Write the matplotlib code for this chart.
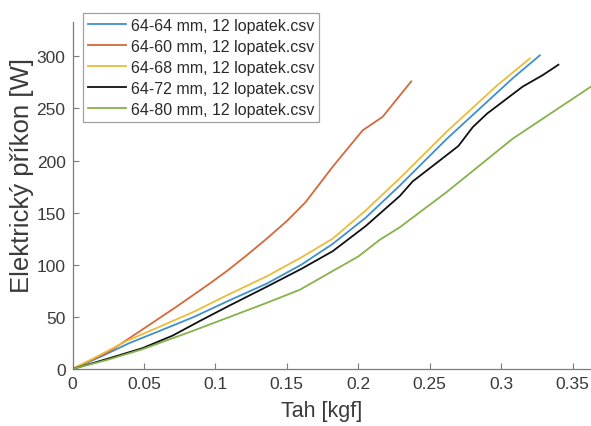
import matplotlib
matplotlib.use("Agg")
import matplotlib.pyplot as plt

plt.rcParams['font.family'] = ['Liberation Sans', 'DejaVu Sans']

# Thrust [kgf] vs electric power [W] for each rotor configuration
labels = [
    "64-64 mm, 12 lopatek.csv",
    "64-60 mm, 12 lopatek.csv",
    "64-68 mm, 12 lopatek.csv",
    "64-72 mm, 12 lopatek.csv",
    "64-80 mm, 12 lopatek.csv",
]

tah_64 = [0, 0.02, 0.04, 0.06, 0.085, 0.11, 0.136, 0.16, 0.182, 0.205, 0.229, 0.262, 0.285, 0.308, 0.327]
prikon_64 = [0, 12, 25, 36, 50, 66, 82, 100, 120, 145, 176, 221, 250, 279, 301]

tah_60 = [0, 0.026, 0.049, 0.073, 0.096, 0.108, 0.12, 0.135, 0.15, 0.163, 0.182, 0.2, 0.203, 0.217, 0.237]
prikon_60 = [0, 17, 38, 60, 82, 94, 107, 124, 142, 160, 194, 224, 229, 242, 276]

tah_68 = [0, 0.02, 0.038, 0.06, 0.085, 0.11, 0.136, 0.16, 0.182, 0.205, 0.229, 0.262, 0.297, 0.320]
prikon_68 = [0, 14, 27, 40, 55, 72, 89, 107, 125, 152, 183, 228, 272, 298]

tah_72 = [0, 0.025, 0.049, 0.07, 0.089, 0.11, 0.136, 0.16, 0.182, 0.205, 0.229, 0.238, 0.255, 0.270, 0.280, 0.290, 0.315, 0.329, 0.340]
prikon_72 = [0, 10, 20, 32, 46, 61, 79, 96, 113, 137, 166, 180, 198, 214, 232, 245, 271, 282, 292]

tah_80 = [0, 0.025, 0.049, 0.085, 0.11, 0.135, 0.159, 0.2, 0.215, 0.229, 0.262, 0.308, 0.365]
prikon_80 = [0, 9, 19, 37, 50, 63, 76, 108, 124, 136, 170, 221, 273]

series = [(tah_64, prikon_64), (tah_60, prikon_60), (tah_68, prikon_68),
          (tah_72, prikon_72), (tah_80, prikon_80)]
colors = ["#3f8fcc", "#d6683c", "#ebbb3a", "#111111", "#86b24a"]

xticks = [0, 0.05, 0.1, 0.15, 0.2, 0.25, 0.3, 0.35]
xtick_labels = ["0", "0.05", "0.1", "0.15", "0.2", "0.25", "0.3", "0.35"]
yticks = [0, 50, 100, 150, 200, 250, 300]

fig = plt.figure(figsize=(5.91, 4.27), dpi=100)
ax = fig.add_axes([72.5 / 591, 1 - 370 / 427, 1 - 72.5 / 591, (370 - 23) / 427])

for (x, y), c, lab in zip(series, colors, labels):
    ax.plot(x, y, color=c, lw=1.3, label=lab)

ax.set_xlim(0, 0.3628)
ax.set_ylim(0, 333)
ax.set_xticks(xticks)
ax.set_xticklabels(xtick_labels)
ax.set_yticks(yticks)

for side in ("top", "right"):
    ax.spines[side].set_visible(False)
for side in ("left", "bottom"):
    ax.spines[side].set_color("#7a7a7a")
    ax.spines[side].set_linewidth(0.9)

ax.tick_params(direction="in", length=4, width=0.8, color="#7a7a7a",
               labelsize=12.5, labelcolor="#3a3a3a", pad=5)

ax.set_xlabel("Tah [kgf]", fontsize=15.5, color="#3a3a3a")
ax.set_ylabel("Elektrický příkon [W]", fontsize=18.5, color="#3a3a3a")
ax.xaxis.set_label_coords(0.481, -0.09)
ax.yaxis.set_label_coords(-0.075, 0.56)

leg = ax.legend(loc="upper left", bbox_to_anchor=(83 / 591, 1 - 14 / 427),
                bbox_transform=fig.transFigure, fontsize=11.5, frameon=True,
                fancybox=False, handlelength=2.4, handletextpad=0.3,
                labelspacing=0.38, borderpad=0.3, borderaxespad=0)
leg.get_frame().set_edgecolor("#8a8a8a")
leg.get_frame().set_linewidth(0.9)
for t in leg.get_texts():
    t.set_color("#2a2a2a")

fig.savefig("out.png", dpi=100)
